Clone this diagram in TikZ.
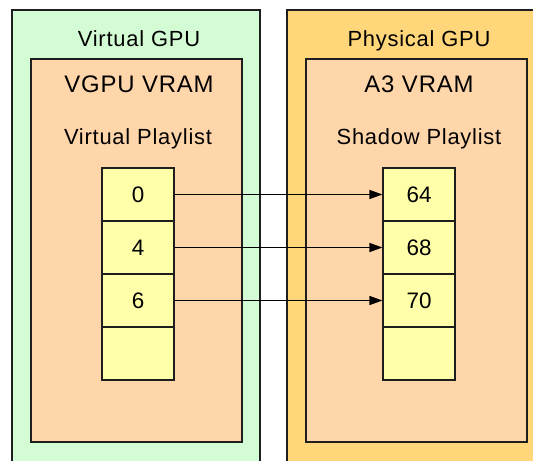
\documentclass[tikz,border=0pt]{standalone}
\usepackage{fontspec}
\setmainfont{Liberation Sans}
\newfontfamily\widesans{Liberation Sans}[LetterSpace=3.5]
\usetikzlibrary{arrows.meta}
\definecolor{vgpugreen}{RGB}{212,252,212}
\definecolor{pgpuorange}{RGB}{255,214,122}
\definecolor{vrampeach}{RGB}{255,213,170}
\definecolor{cellyellow}{RGB}{255,255,170}
\definecolor{edge}{RGB}{30,30,30}
\tikzset{
  outerbox/.style={draw=edge, line width=1.2bp},
  vrambox/.style={draw=edge, fill=vrampeach, line width=1.2bp},
  cell/.style={draw=edge, fill=cellyellow, line width=1.1bp, rectangle,
    minimum width=72bp, minimum height=53bp, inner sep=0pt,
    font=\fontsize{22.5}{26}\selectfont},
  lbl/.style={anchor=base, inner sep=0pt, font=\widesans\fontsize{22}{26}\selectfont},
  biglbl/.style={lbl, font=\widesans\fontsize{24}{28}\selectfont},
  link/.style={draw=black, line width=1.1bp, -{Triangle[length=13bp,width=9bp]}}
}
\begin{document}
\begin{tikzpicture}[x=1bp,y=-1bp]
  \useasboundingbox (0,0) rectangle (533,461);
  \clip (0,0) rectangle (533,461);
  \fill[white] (0,0) rectangle (533,461);

  % enclosing GPU boxes (run past the lower and right edges)
  \path[outerbox, fill=vgpugreen] (12,10) rectangle (260,475);
  \path[outerbox, fill=pgpuorange] (287,10) rectangle (550,475);

  % VRAM regions
  \path[vrambox] (31,59) rectangle (242,442);
  \path[vrambox] (306,59) rectangle (527,442);

  % titles
  \node[lbl] (vgpu) at (139,47) {Virtual GPU};
  \node[biglbl] (vvram) at (139,93) {VGPU VRAM};
  \node[lbl] (vplay) at (138,144.5) {Virtual Playlist};
  \node[lbl] (pgpu) at (419,47) {Physical GPU};
  \node[biglbl] (avram) at (419,93) {A3 VRAM};
  \node[lbl] (splay) at (419,144.5) {Shadow Playlist};

  % virtual playlist entries
  \node[cell] (l0) at (138,194.5) {0};
  \node[cell] (l1) at (138,247.5) {4};
  \node[cell] (l2) at (138,300.5) {6};
  \node[cell] (l3) at (138,353.5) {};

  % shadow playlist entries
  \node[cell] (r0) at (419,194.5) {64};
  \node[cell] (r1) at (419,247.5) {68};
  \node[cell] (r2) at (419,300.5) {70};
  \node[cell] (r3) at (419,353.5) {};

  % entry translation
  \draw[link] (l0.east) -- (r0.west);
  \draw[link] (l1.east) -- (r1.west);
  \draw[link] (l2.east) -- (r2.west);
\end{tikzpicture}
\end{document}
